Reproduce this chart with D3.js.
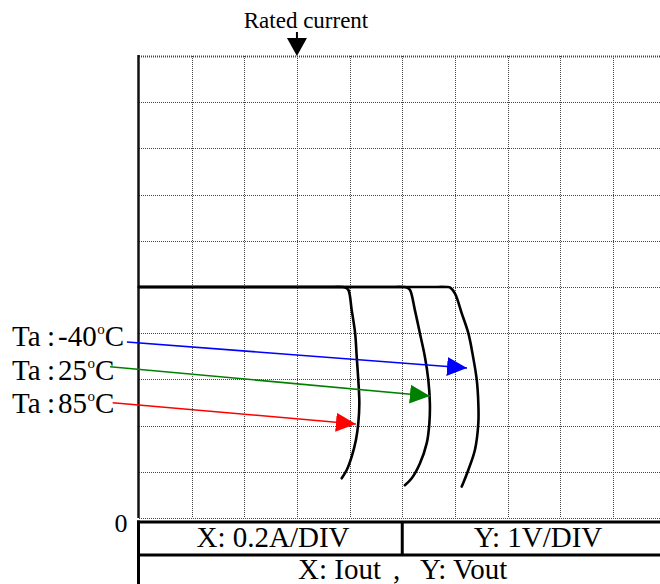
<!DOCTYPE html>
<html><head><meta charset="utf-8">
<script src="https://cdn.jsdelivr.net/npm/d3@7"></script>
<style>
html,body{margin:0;padding:0;background:#fff;}
svg{display:block;font-family:"Liberation Serif","Times New Roman",serif;}
</style></head>
<body>
<svg id="chart" width="660" height="584"></svg>
<script>
// ---- data ----
const xGrid = [0,0.2,0.4,0.6,0.8,1.0,1.2,1.4,1.6,1.8,2.0];   // A (0.2 A/DIV)
const yGrid = [0,1,2,3,4,5,6,7,8,9,10];                         // V (1 V/DIV)
const ratedCurrent = 0.6;
const yTickLabel = "0";

const temps = ["-40", "25", "85"];
const colors = ["#0000ff", "#008000", "#ff0000"];

const iM40 = [0, 0.40, 0.80, 1.10, 1.170, 1.181, 1.200, 1.226, 1.251, 1.269, 1.283, 1.289, 1.289, 1.276, 1.251, 1.226];
const vM40 = [5.0, 5.0, 5.0, 5.0, 5.0, 4.99, 4.86, 4.43, 4.00, 3.49, 2.99, 2.48, 2.05, 1.47, 1.04, 0.68];
const i25  = [0, 0.40, 0.80, 0.95, 1.005, 1.017, 1.029, 1.048, 1.067, 1.086, 1.099, 1.105, 1.103, 1.093, 1.067, 1.036, 1.010];
const v25  = [5.0, 5.0, 5.0, 5.0, 5.0, 4.99, 4.94, 4.50, 4.00, 3.49, 2.99, 2.48, 2.05, 1.62, 1.18, 0.86, 0.71];
const i85  = [0, 0.30, 0.60, 0.72, 0.772, 0.783, 0.795, 0.808, 0.821, 0.827, 0.833, 0.837, 0.833, 0.824, 0.808, 0.789, 0.770];
const v85  = [5.0, 5.0, 5.0, 5.0, 5.0, 4.99, 4.94, 4.50, 4.00, 3.49, 2.99, 2.48, 2.05, 1.69, 1.33, 1.04, 0.86];

// annotation arrows (data units): from label to curve
const arrowFromI = [-0.046, -0.110, -0.100];
const arrowFromV = [3.81, 3.275, 2.496];
const arrowToI   = [1.246, 1.105, 0.824];
const arrowToV   = [3.247, 2.641, 2.035];

// ---- drawing ----
const svg = d3.select("#chart");
const x = d3.scaleLinear().domain([0, 2.0]).range([139, 665.5]);
const y = d3.scaleLinear().domain([0, 10]).range([518, 56]);
const snap = v => Math.round(v) + 0.5;

// grid
const grid = svg.append("g");
grid.selectAll("line.v").data(xGrid.slice(1)).join("line")
  .attr("x1", d => snap(x(d))).attr("x2", d => snap(x(d)))
  .attr("y1", y(10)).attr("y2", y(0))
  .attr("stroke", "#444").attr("stroke-width", 1).attr("stroke-dasharray", "1,1");
grid.selectAll("line.h").data(yGrid).join("line")
  .attr("x1", x(0)).attr("x2", 660)
  .attr("y1", d => snap(y(d))).attr("y2", d => snap(y(d)))
  .attr("stroke", "#444").attr("stroke-width", d => d === 10 ? 2 : 1)
  .attr("stroke-dasharray", "1,1");
// left border
svg.append("line").attr("x1", x(0) - 0.5).attr("x2", x(0) - 0.5)
  .attr("y1", y(10) - 1).attr("y2", y(0))
  .attr("stroke", "#111").attr("stroke-width", 2.5);

// curves
const line = d3.line().x(d => x(d[0])).y(d => y(d[1])).curve(d3.curveCatmullRom.alpha(0.5));
const series = [[iM40, vM40], [i25, v25], [i85, v85]];
svg.append("g").selectAll("path").data(series).join("path")
  .attr("d", s => line(s[0].map((v, k) => [v, s[1][k]])))
  .attr("fill", "none").attr("stroke", "#000").attr("stroke-width", 2.6)
  .attr("stroke-linejoin", "round").attr("stroke-linecap", "round");

// arrow markers
const defs = svg.append("defs");
colors.forEach((c, k) => {
  defs.append("marker").attr("id", "ah" + k)
    .attr("viewBox", "0 0 20 19").attr("refX", 20).attr("refY", 9.5)
    .attr("markerWidth", 20).attr("markerHeight", 19)
    .attr("markerUnits", "userSpaceOnUse").attr("orient", "auto")
    .append("path").attr("d", "M0,0 L20,9.5 L0,19 Z").attr("fill", c);
});
svg.append("g").selectAll("line").data(temps).join("line")
  .attr("x1", (d, k) => x(arrowFromI[k])).attr("y1", (d, k) => y(arrowFromV[k]))
  .attr("x2", (d, k) => x(arrowToI[k])).attr("y2", (d, k) => y(arrowToV[k]))
  .attr("stroke", (d, k) => colors[k]).attr("stroke-width", 1.6)
  .attr("marker-end", (d, k) => "url(#ah" + k + ")");

// temperature labels
const baselines = [346, 380, 413];
temps.forEach((t, k) => {
  const g = svg.append("text").attr("y", baselines[k]).attr("font-size", 29).attr("fill", "#000");
  g.append("tspan").attr("x", 12).text("Ta");
  g.append("tspan").attr("x", 47).text(":");
  g.append("tspan").attr("x", 58).text(t);
  g.append("tspan").attr("font-size", 15).attr("dy", -12).attr("dx", 0.5).text("o");
  g.append("tspan").attr("font-size", 29).attr("dy", 12).text("C");
});

// zero label
svg.append("text").attr("x", 121).attr("y", 532).attr("text-anchor", "middle")
  .attr("font-size", 26).text(yTickLabel);

// rated current
const rx = x(ratedCurrent);
svg.append("text").attr("x", 306).attr("y", 28).attr("text-anchor", "middle")
  .attr("font-size", 23).text("Rated current");
svg.append("line").attr("x1", rx).attr("x2", rx).attr("y1", 32).attr("y2", 40)
  .attr("stroke", "#000").attr("stroke-width", 2);
svg.append("path").attr("d", `M${rx - 10},38 L${rx + 10},38 L${rx},${y(10)} Z`).attr("fill", "#000");

// bottom table
const tb = svg.append("g").attr("stroke", "#000").attr("stroke-width", 3);
tb.append("line").attr("x1", 137).attr("x2", 660).attr("y1", 522).attr("y2", 522);
tb.append("line").attr("x1", 137).attr("x2", 660).attr("y1", 555).attr("y2", 555);
tb.append("line").attr("x1", 138.5).attr("x2", 138.5).attr("y1", 520.5).attr("y2", 584);
tb.append("line").attr("x1", x(1.0)).attr("x2", x(1.0)).attr("y1", 522).attr("y2", 555);

svg.append("text").attr("x", 273).attr("y", 547).attr("text-anchor", "middle")
  .attr("font-size", 29).text("X: 0.2A/DIV");
svg.append("text").attr("x", 538).attr("y", 547).attr("text-anchor", "middle")
  .attr("font-size", 29).text("Y: 1V/DIV");
const t3 = svg.append("text").attr("y", 579).attr("font-size", 29);
t3.append("tspan").attr("x", 298).text("X: Iout");
t3.append("tspan").attr("x", 393).text(",");
t3.append("tspan").attr("x", 420).text("Y: Vout");
</script>
</body></html>
